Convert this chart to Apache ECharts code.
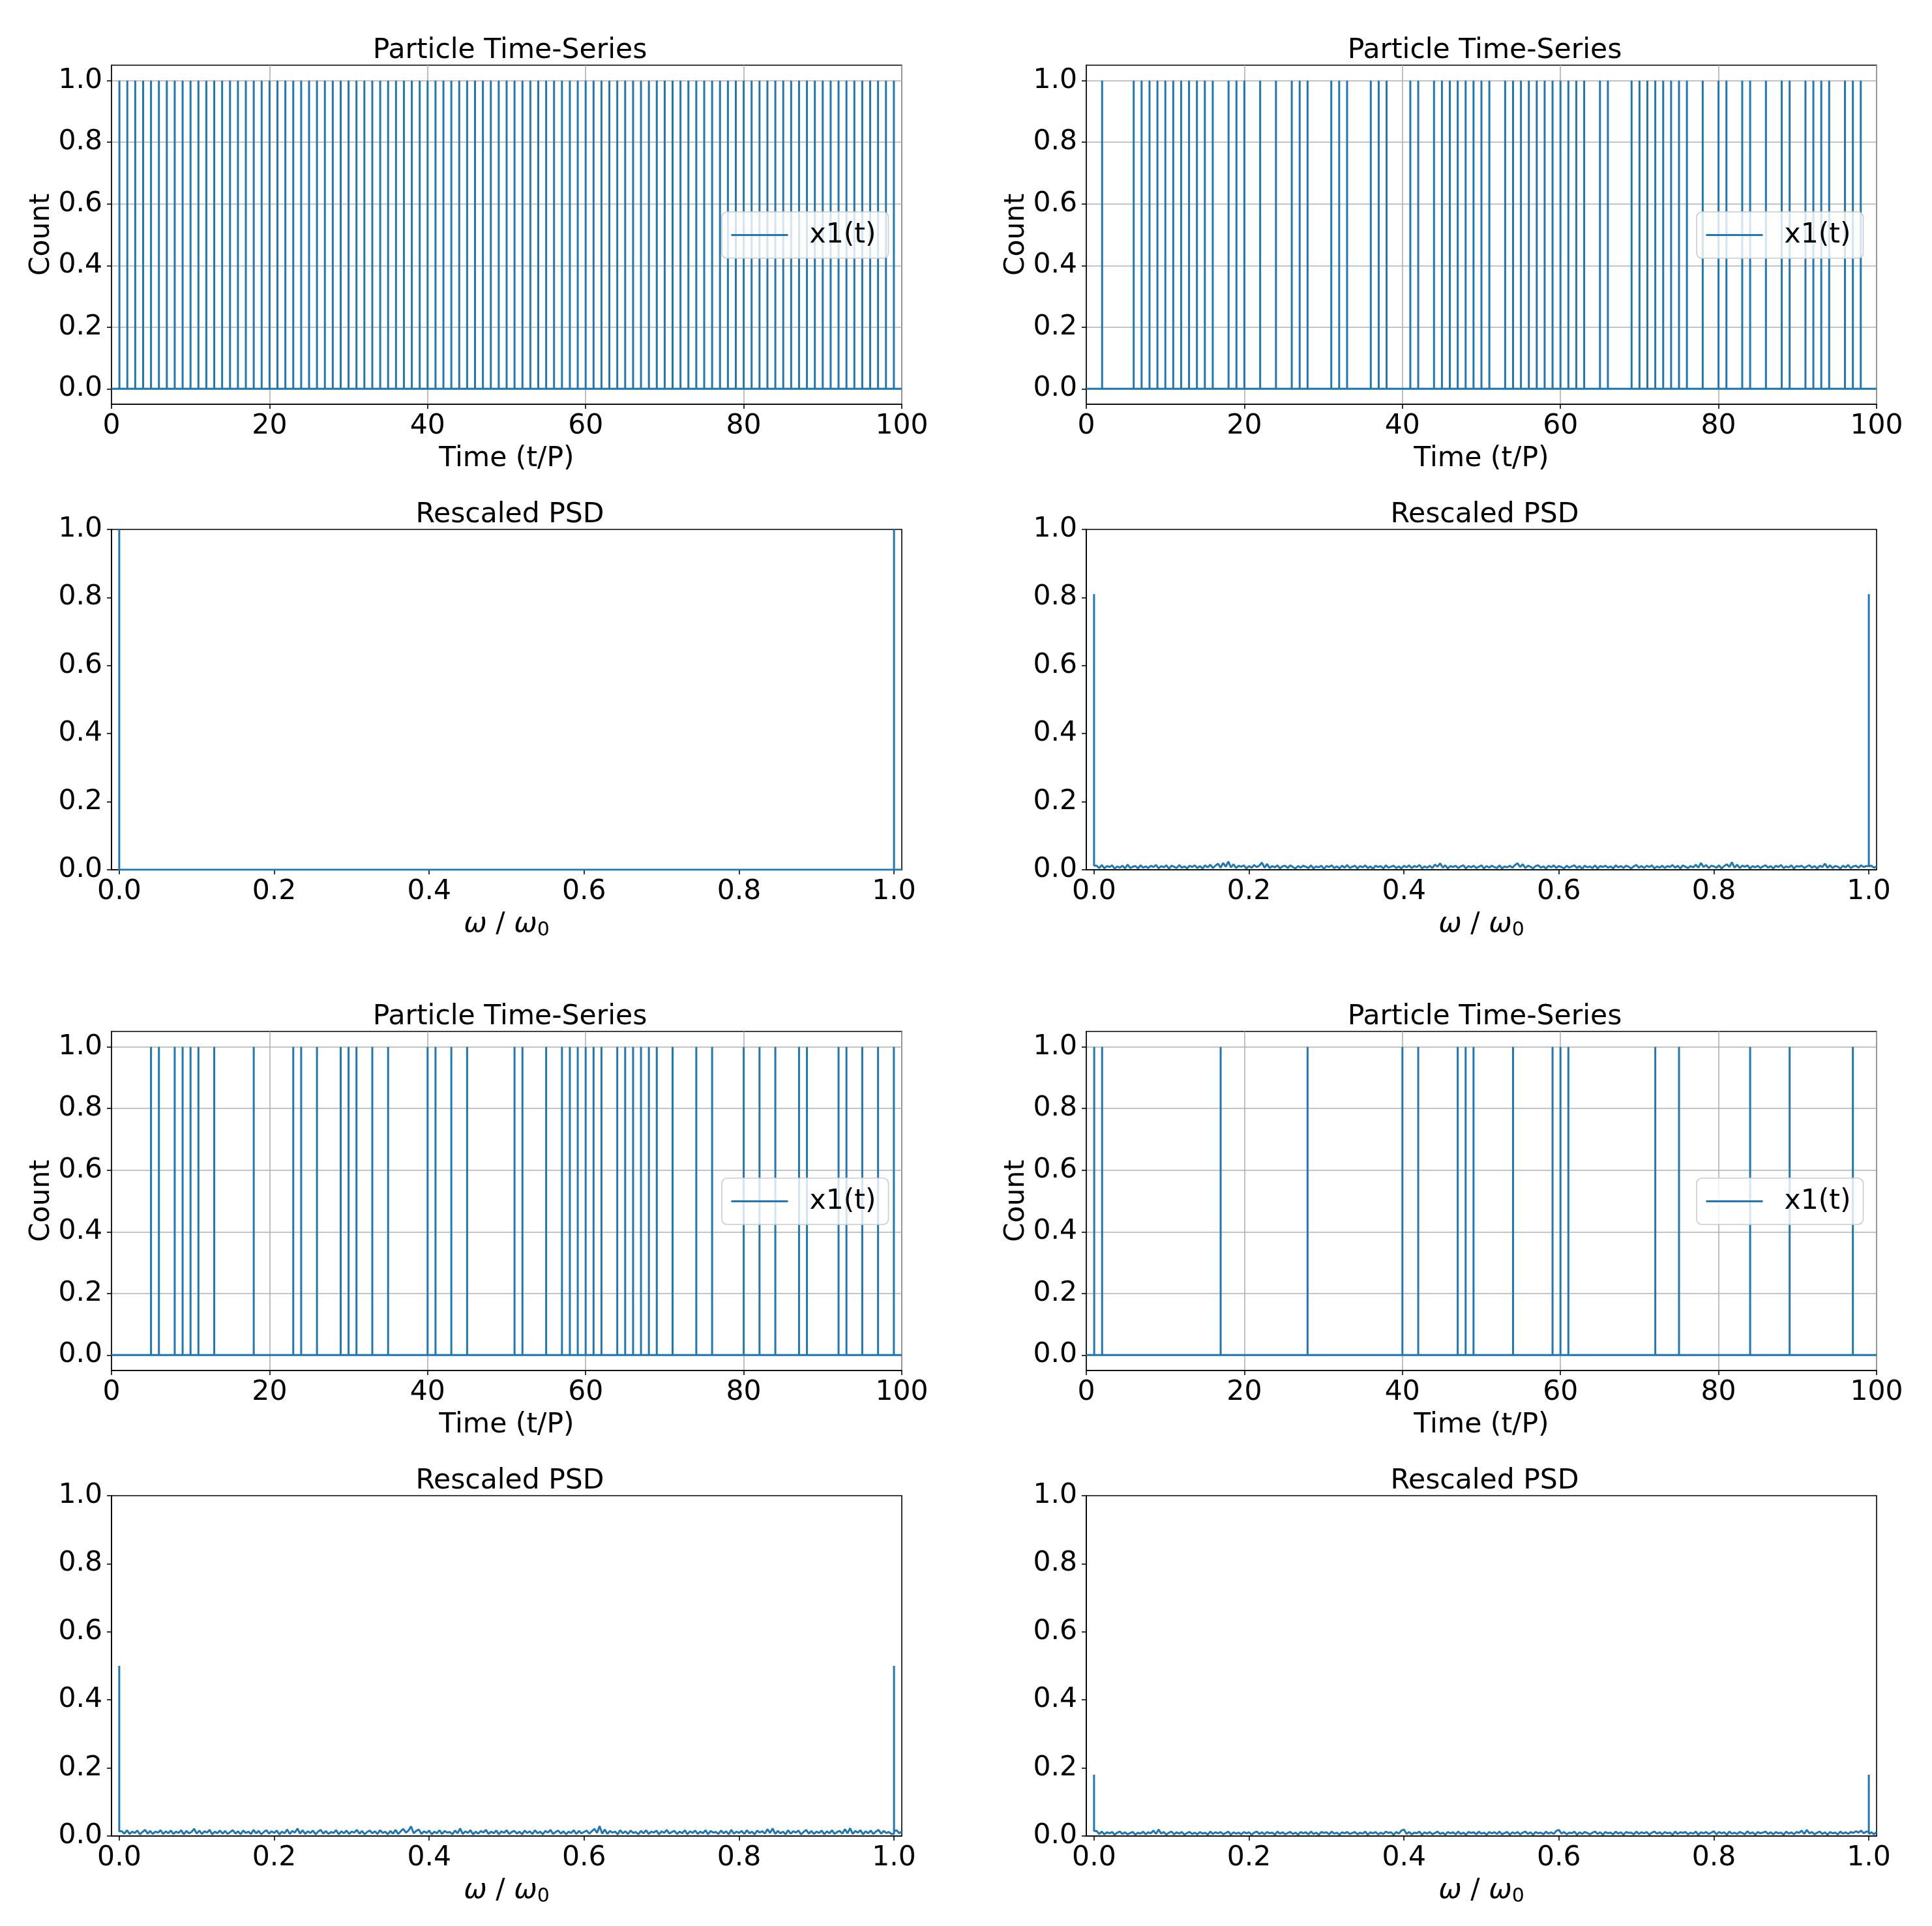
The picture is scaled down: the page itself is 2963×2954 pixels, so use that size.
<!DOCTYPE html>
<html><head><meta charset="utf-8">
<script src="https://cdn.jsdelivr.net/npm/echarts@6/dist/echarts.min.js"></script>
<style>html,body{margin:0;padding:0;background:#fff}#c{width:2963px;height:2954px}</style>
</head><body><div id="c"></div><script>
// ---------- DATA ----------
// spike times (t/P) of x1(t) in the four time-series panels
const spikesA = [1,2,3,4,5,6,7,8,9,10,11,12,13,14,15,16,17,18,19,20,21,22,23,24,25,26,27,28,29,30,31,32,33,34,35,36,37,38,39,40,41,42,43,44,45,46,47,48,49,50,51,52,53,54,55,56,57,58,59,60,61,62,63,64,65,66,67,68,69,70,71,72,73,74,75,76,77,78,79,80,81,82,83,84,85,86,87,88,89,90,91,92,93,94,95,96,97,98,99];
const spikesB = [2,6,7,8,9,10,11,12,13,14,15,16,18,19,20,22,24,26,27,28,31,32,33,36,37,38,41,42,44,45,46,47,48,49,50,51,53,54,55,56,57,58,59,60,61,62,63,65,66,69,70,71,72,73,74,75,76,78,80,81,83,84,86,88,89,91,92,93,94,96,97,98];
const spikesC = [5,6,8,9,10,11,13,18,23,24,26,29,30,31,33,35,40,41,43,45,51,52,55,57,58,59,60,61,62,64,65,66,67,68,69,71,74,76,80,82,84,87,88,92,93,95,97,99];
const spikesD = [1,2,17,28,40,42,47,48,49,54,59,60,61,72,75,84,89,97];
const spikeHeight = 1;

// PSD: peak heights at omega/omega0 = 0 and 1, and background noise
const psdPeakFreqs = [0.0, 1.0];
const psdPeakHeights = [1.0, 0.81, 0.50, 0.18];
const psdFreqMax = 1.01;
const noiseA = null; // flat zero background
const noiseB = [.012,.005,.014,.004,.011,.008,.013,.003,.010,.006,.012,.004,.015,.005,.009,.011,.004,.013,.006,.010,
.005,.012,.008,.014,.004,.011,.007,.013,.003,.012,.009,.005,.014,.006,.010,.004,.012,.008,.013,.005,
.011,.004,.013,.007,.015,.005,.012,.018,.006,.020,.009,.024,.007,.016,.005,.012,.009,.013,.004,.011,
.006,.014,.008,.012,.021,.006,.017,.005,.011,.007,.013,.004,.010,.012,.005,.013,.008,.004,.011,.006,
.012,.009,.005,.013,.004,.010,.007,.012,.003,.011,.008,.013,.005,.010,.004,.012,.006,.014,.005,.009,
.012,.004,.011,.007,.013,.005,.010,.003,.012,.008,.011,.004,.013,.006,.009,.012,.005,.010,.004,.012,
.007,.013,.005,.011,.008,.014,.004,.010,.006,.012,.005,.015,.009,.019,.006,.013,.004,.011,.008,.012,
.005,.010,.013,.004,.011,.007,.012,.005,.009,.013,.004,.011,.006,.012,.008,.005,.013,.004,.010,.007,
.012,.006,.014,.019,.008,.016,.005,.012,.009,.004,.011,.013,.006,.010,.004,.012,.007,.013,.005,.011,
.008,.004,.012,.006,.010,.013,.005,.011,.003,.012,.007,.010,.005,.013,.004,.011,.008,.012,.006,.010,
.004,.013,.007,.011,.005,.012,.009,.004,.010,.014,.006,.011,.005,.012,.008,.013,.004,.010,.006,.012,
.005,.011,.008,.014,.006,.012,.004,.013,.009,.005,.011,.007,.015,.006,.020,.008,.014,.005,.012,.010,
.006,.013,.004,.011,.016,.008,.022,.006,.015,.005,.012,.009,.013,.004,.011,.007,.012,.005,.010,.013,
.006,.011,.004,.012,.008,.014,.005,.010,.007,.013,.004,.011,.009,.012,.005,.010,.013,.006,.011,.004,
.012,.008,.018,.006,.013,.005,.011,.009,.004,.012,.007,.014,.005,.010,.012,.006,.013,.008,.011,.010,
.012,.006,.010];
const noiseC = [.014,.007,.017,.006,.013,.009,.016,.005,.012,.018,.007,.015,.006,.013,.010,.017,.006,.014,.008,.016,
.006,.013,.009,.017,.005,.015,.008,.012,.021,.007,.016,.006,.014,.010,.018,.005,.013,.008,.016,.007,
.015,.006,.012,.017,.007,.014,.005,.016,.009,.013,.006,.018,.008,.015,.005,.012,.017,.007,.014,.009,
.016,.005,.013,.008,.019,.006,.015,.010,.022,.007,.017,.006,.014,.009,.016,.005,.013,.018,.007,.015,
.006,.012,.009,.017,.005,.014,.008,.016,.006,.013,.010,.018,.007,.015,.005,.012,.016,.008,.014,.006,
.017,.009,.013,.005,.015,.007,.018,.006,.014,.021,.010,.016,.028,.008,.015,.019,.006,.014,.009,.016,
.005,.013,.008,.017,.006,.015,.010,.012,.005,.016,.008,.022,.006,.014,.009,.017,.005,.013,.007,.015,
.010,.018,.006,.013,.008,.016,.005,.014,.009,.017,.006,.012,.015,.007,.013,.005,.016,.009,.014,.006,
.017,.008,.013,.005,.015,.010,.018,.006,.012,.016,.007,.014,.005,.013,.009,.017,.006,.015,.008,.012,
.016,.007,.014,.021,.009,.029,.007,.019,.006,.015,.010,.013,.005,.017,.008,.014,.006,.016,.009,.012,
.005,.015,.008,.017,.006,.013,.010,.016,.005,.014,.009,.018,.007,.012,.015,.006,.013,.008,.017,.005,
.014,.009,.016,.006,.013,.008,.017,.005,.015,.010,.012,.006,.016,.008,.014,.005,.018,.007,.013,.009,
.015,.006,.017,.008,.013,.005,.016,.010,.014,.007,.020,.009,.022,.006,.015,.008,.013,.005,.017,.007,
.014,.010,.016,.005,.012,.018,.007,.015,.006,.013,.009,.016,.005,.014,.008,.017,.006,.012,.015,.007,
.020,.008,.023,.006,.015,.010,.017,.005,.014,.008,.016,.006,.013,.018,.007,.015,.009,.012,.006,.014,
.017,.008,.013];
const noiseD = [.015,.006,.013,.005,.011,.008,.012,.004,.010,.013,.006,.011,.005,.009,.012,.004,.010,.007,.013,.005,
.011,.008,.016,.006,.019,.007,.012,.004,.010,.013,.005,.011,.007,.012,.004,.009,.012,.006,.010,.005,
.012,.007,.010,.004,.013,.006,.011,.008,.012,.005,.009,.013,.004,.011,.007,.010,.005,.012,.008,.011,
.004,.010,.013,.006,.011,.005,.012,.008,.010,.004,.013,.007,.011,.005,.009,.012,.006,.010,.004,.012,
.008,.011,.005,.013,.006,.010,.004,.012,.009,.011,.005,.013,.007,.010,.004,.011,.008,.012,.006,.009,
.012,.005,.010,.007,.013,.004,.011,.008,.012,.005,.010,.006,.013,.009,.011,.004,.012,.007,.016,.019,
.006,.012,.005,.010,.008,.013,.004,.011,.007,.012,.005,.009,.013,.006,.010,.004,.012,.008,.011,.005,
.013,.006,.010,.004,.012,.009,.011,.005,.013,.007,.010,.004,.012,.008,.011,.006,.013,.005,.009,.012,
.004,.011,.007,.012,.005,.010,.013,.006,.011,.004,.012,.008,.010,.005,.013,.007,.011,.006,.015,.018,
.007,.012,.005,.010,.008,.013,.004,.011,.006,.012,.009,.005,.010,.013,.006,.011,.004,.012,.008,.010,
.005,.013,.007,.011,.004,.012,.009,.010,.005,.013,.006,.011,.008,.012,.004,.010,.013,.007,.011,.005,
.012,.008,.010,.004,.013,.006,.011,.009,.012,.005,.010,.007,.013,.004,.011,.008,.012,.006,.010,.014,
.005,.012,.008,.011,.004,.013,.007,.010,.006,.012,.009,.005,.014,.007,.011,.004,.012,.008,.010,.013,
.006,.011,.005,.012,.008,.010,.004,.013,.007,.011,.005,.012,.009,.016,.006,.018,.008,.012,.005,.010,
.013,.006,.011,.004,.012,.008,.010,.005,.013,.007,.011,.006,.012,.009,.014,.010,.016,.008,.013,.006,
.011,.005,.012];

// tick labels
const timeTicks = [0, 20, 40, 60, 80, 100];
const countTicks = [0.0, 0.2, 0.4, 0.6, 0.8, 1.0];
const freqTicks = [0.0, 0.2, 0.4, 0.6, 0.8, 1.0];
const psdTicks = [0.0, 0.2, 0.4, 0.6, 0.8, 1.0];

const tsTitle = 'Particle Time-Series';
const psdTitle = 'Rescaled PSD';
const seriesName = 'x1(t)';

// ---------- BUILD ----------
function spikeTrain(spikes) {
  const pts = [[timeTicks[0], 0]];
  spikes.forEach(t => { pts.push([t, 0], [t, spikeHeight], [t, 0]); });
  pts.push([timeTicks[timeTicks.length - 1], 0]);
  return pts;
}
// PSD line: background samples on a uniform grid up to psdFreqMax, peaks drawn as vertical strokes at their frequency
function psdData(peak, noise) {
  const n = noise ? noise.length : 303;
  const step = psdFreqMax / n;
  const val = i => (noise ? noise[i] : 0);
  const pts = [[psdPeakFreqs[0], peak], [psdPeakFreqs[0], val(0)]];
  let placed = false;
  for (let i = 0; i < n; i++) {
    const f = (i + 1) * step;
    if (!placed && f >= psdPeakFreqs[1]) {
      const prev = i > 0 ? val(i - 1) : 0;
      pts.push([psdPeakFreqs[1], prev], [psdPeakFreqs[1], peak], [psdPeakFreqs[1], val(i)]);
      placed = true;
    }
    pts.push([f, val(i)]);
  }
  return pts;
}

const FONT = 'DejaVu Sans';
const FS = 42.5;
const BLUE = '#1f77b4';
const colLeft = [171, 1666];
const W = 1212;
const rowTop = [100, 812, 1582, 2294];
const rowH = [520, 522, 520, 522];

const panels = [
  {r:0,c:0,kind:'ts',spikes:spikesA},
  {r:0,c:1,kind:'ts',spikes:spikesB},
  {r:1,c:0,kind:'psd',peak:psdPeakHeights[0],noise:noiseA},
  {r:1,c:1,kind:'psd',peak:psdPeakHeights[1],noise:noiseB},
  {r:2,c:0,kind:'ts',spikes:spikesC},
  {r:2,c:1,kind:'ts',spikes:spikesD},
  {r:3,c:0,kind:'psd',peak:psdPeakHeights[2],noise:noiseC},
  {r:3,c:1,kind:'psd',peak:psdPeakHeights[3],noise:noiseD}
];

const axisLine = {show:true, onZero:false, lineStyle:{color:'#000', width:1.6}};
const axisTick = {show:true, inside:false, length:7, lineStyle:{color:'#000', width:1.6}};
const labelStyle = {color:'#000', fontSize:FS, fontFamily:FONT};
const gridLine = {show:true, lineStyle:{color:'#b0b0b0', width:1.6, type:'solid'}};

const grids = [], xAxes = [], yAxes = [], series = [], titles = [], legends = [];
panels.forEach((p, i) => {
  const left = colLeft[p.c], top = rowTop[p.r], h = rowH[p.r];
  grids.push({left:left, top:top, width:W, height:h, show:true, borderColor:'#000', borderWidth:1.6, backgroundColor:'transparent'});
  titles.push({text: p.kind === 'ts' ? tsTitle : psdTitle, left: left + W/2, top: top - 49, textAlign:'center',
    textStyle:{fontSize:FS, fontWeight:'normal', fontFamily:FONT, color:'#000'}});
  if (p.kind === 'ts') {
    xAxes.push({type:'value', gridIndex:i, min:timeTicks[0], max:timeTicks[timeTicks.length-1], interval:20,
      axisLine, axisTick, axisLabel:Object.assign({margin:12}, labelStyle), splitLine:gridLine,
      name:'Time (t/P)', nameLocation:'middle', nameGap:62, nameTextStyle:labelStyle});
    yAxes.push({type:'value', gridIndex:i, min:-0.05, max:1.05,
      axisLine, axisTick:Object.assign({customValues:countTicks}, axisTick),
      axisLabel:Object.assign({margin:14, customValues:countTicks, formatter:v=>Number(v).toFixed(1)}, labelStyle),
      splitLine:gridLine,
      name:'Count', nameLocation:'middle', nameGap:84, nameTextStyle:labelStyle});
    series.push({type:'line', name:seriesName, xAxisIndex:i, yAxisIndex:i, data:spikeTrain(p.spikes),
      symbol:'none', showSymbol:false, animation:false, lineStyle:{color:BLUE, width:3}, itemStyle:{color:BLUE}, z:2});
    legends.push({data:[seriesName], orient:'vertical',
      right: 2963 - (left + W - 20.5), top: top + h/2 - 35,
      icon:'rect', itemWidth:87, itemHeight:3, padding:[14,19,14,14.5],
      backgroundColor:'rgba(255,255,255,0.8)', borderColor:'#cccccc', borderWidth:1.6, borderRadius:8,
      textStyle:{fontSize:FS, fontFamily:FONT, color:'#000', padding:[0,0,0,28]}, selectedMode:false});
  } else {
    xAxes.push({type:'value', gridIndex:i, min:-0.01, max:1.01,
      axisLine, axisTick:Object.assign({customValues:freqTicks}, axisTick),
      axisLabel:Object.assign({margin:12, customValues:freqTicks, formatter:v=>Number(v).toFixed(1)}, labelStyle),
      splitLine:{show:false},
      name:'{w|ω} / {w|ω}{s|0}', nameLocation:'middle', nameGap:60,
      nameTextStyle:Object.assign({rich:{
        w:{fontStyle:'italic', fontSize:FS, fontFamily:FONT, color:'#000'},
        s:{fontSize:30, fontFamily:FONT, color:'#000', verticalAlign:'bottom', padding:[18,0,0,0]}
      }}, labelStyle)});
    yAxes.push({type:'value', gridIndex:i, min:psdTicks[0], max:psdTicks[psdTicks.length-1], interval:0.2,
      axisLine, axisTick,
      axisLabel:Object.assign({margin:14, formatter:v=>Number(v).toFixed(1)}, labelStyle),
      splitLine:{show:false}});
    series.push({type:'line', name:'PSD '+i, xAxisIndex:i, yAxisIndex:i, data:psdData(p.peak, p.noise),
      symbol:'none', showSymbol:false, animation:false, lineStyle:{color:BLUE, width:3}, itemStyle:{color:BLUE}, z:2});
  }
});

const chart = echarts.init(document.getElementById('c'), null, {renderer:'canvas'});
chart.setOption({
  animation:false,
  backgroundColor:'#fff',
  textStyle:{fontFamily:FONT},
  title:titles, grid:grids, xAxis:xAxes, yAxis:yAxes, series:series, legend:legends
});
</script></body></html>
